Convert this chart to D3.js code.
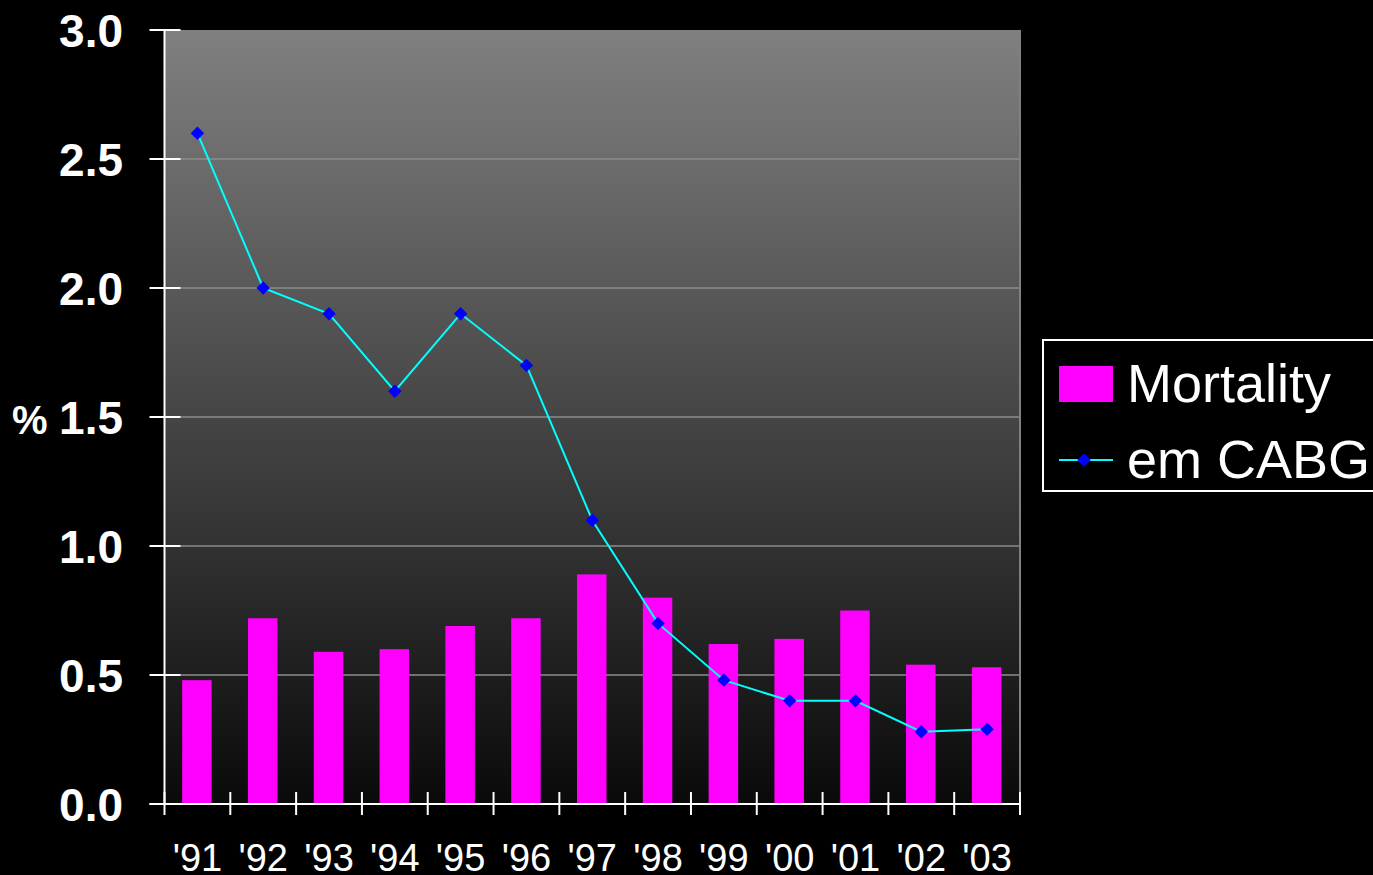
<!DOCTYPE html>
<html>
<head>
<meta charset="utf-8">
<script src="https://cdn.jsdelivr.net/npm/d3@7"></script>
<style>
  html, body { margin: 0; padding: 0; background: #000; }
  svg { display: block; }
  text { font-family: "Liberation Sans", Arial, sans-serif; fill: #fff; }
</style>
</head>
<body>
<svg id="chart" width="1373" height="875"></svg>
<script>
// Year labels along the category axis
const years = ["'91", "'92", "'93", "'94", "'95", "'96", "'97", "'98", "'99", "'00", "'01", "'02", "'03"];
// Mortality (%) shown as bars
const mortality = [0.48, 0.72, 0.59, 0.60, 0.69, 0.72, 0.89, 0.80, 0.62, 0.64, 0.75, 0.54, 0.53];
// em CABG (%) shown as the line
const emCABG = [2.6, 2.0, 1.9, 1.6, 1.9, 1.7, 1.1, 0.7, 0.48, 0.40, 0.40, 0.28, 0.29];
// Value axis ticks
const yTicks = [0, 0.5, 1.0, 1.5, 2.0, 2.5, 3.0];

const svg = d3.select("#chart");
const plot = { left: 164.5, right: 1020, top: 30, bottom: 804 };

const x = d3.scaleBand().domain(years).range([plot.left, plot.right]).paddingInner(0).paddingOuter(0);
const y = d3.scaleLinear().domain([0, 3]).range([plot.bottom, plot.top]);

// Diamond marker: a square turned 45 degrees
const marker = d3.symbol().type(d3.symbolSquare).size(90);

// Plot background: vertical grey-to-black gradient
const defs = svg.append("defs");
const grad = defs.append("linearGradient").attr("id", "bg").attr("x1", 0).attr("y1", 0).attr("x2", 0).attr("y2", 1);
grad.append("stop").attr("offset", "0%").attr("stop-color", "#808080");
grad.append("stop").attr("offset", "100%").attr("stop-color", "#0a0a0a");

svg.append("rect")
  .attr("x", plot.left).attr("y", plot.top)
  .attr("width", plot.right - plot.left).attr("height", plot.bottom - plot.top)
  .attr("fill", "url(#bg)");

// Horizontal gridlines
svg.append("g").selectAll("line").data(yTicks.filter(d => d > 0 && d < 3)).join("line")
  .attr("x1", plot.left).attr("x2", plot.right)
  .attr("y1", d => y(d)).attr("y2", d => y(d))
  .attr("stroke", "#8c8c8c").attr("stroke-width", 1.5);

// Right border of the plot area
svg.append("line")
  .attr("x1", plot.right).attr("x2", plot.right)
  .attr("y1", plot.top).attr("y2", plot.bottom)
  .attr("stroke", "#808080").attr("stroke-width", 2);

// Mortality bars
const barW = 29.5;
svg.append("g").selectAll("rect").data(mortality).join("rect")
  .attr("x", (d, i) => x(years[i]) + x.bandwidth() / 2 - barW / 2 - 0.5)
  .attr("y", d => y(d))
  .attr("width", barW)
  .attr("height", d => y(0) - y(d))
  .attr("fill", "#ff00ff");

// em CABG line with diamond markers
const lineGen = d3.line()
  .x((d, i) => x(years[i]) + x.bandwidth() / 2)
  .y(d => y(d));
svg.append("path").datum(emCABG)
  .attr("d", lineGen)
  .attr("fill", "none").attr("stroke", "#00ffff").attr("stroke-width", 2);

svg.append("g").selectAll("path").data(emCABG).join("path")
  .attr("d", marker)
  .attr("transform", (d, i) => `translate(${x(years[i]) + x.bandwidth() / 2},${y(d)}) rotate(45)`)
  .attr("fill", "#0000ff");

// Value axis (line crosses through the ticks)
const yAxis = svg.append("g");
yAxis.append("line")
  .attr("x1", plot.left).attr("x2", plot.left)
  .attr("y1", plot.top).attr("y2", plot.bottom)
  .attr("stroke", "#fff").attr("stroke-width", 2);
yAxis.selectAll("line.tick").data(yTicks).join("line").attr("class", "tick")
  .attr("x1", plot.left - 15).attr("x2", plot.left + 16)
  .attr("y1", d => y(d)).attr("y2", d => y(d))
  .attr("stroke", "#fff").attr("stroke-width", 2);
yAxis.selectAll("text").data(yTicks).join("text")
  .attr("x", 123).attr("y", d => y(d) + 16.5)
  .attr("text-anchor", "end")
  .attr("font-size", 46).attr("font-weight", "bold")
  .text(d => d3.format(".1f")(d));

// Unit label
svg.append("text")
  .attr("x", 12).attr("y", y(1.5) + 16.5)
  .attr("font-size", 40).attr("font-weight", "bold")
  .text("%");

// Category axis
const xAxis = svg.append("g");
xAxis.append("line")
  .attr("x1", plot.left - 15).attr("x2", plot.right)
  .attr("y1", plot.bottom).attr("y2", plot.bottom)
  .attr("stroke", "#fff").attr("stroke-width", 2);
const bounds = years.map(d => x(d)).concat([plot.right]);
xAxis.selectAll("line.tick").data(bounds).join("line").attr("class", "tick")
  .attr("x1", d => d).attr("x2", d => d)
  .attr("y1", plot.bottom - 12).attr("y2", plot.bottom + 11)
  .attr("stroke", "#fff").attr("stroke-width", 2);
xAxis.selectAll("text").data(years).join("text")
  .attr("x", d => x(d) + x.bandwidth() / 2)
  .attr("y", 871)
  .attr("text-anchor", "middle")
  .attr("font-size", 38)
  .text(d => d);

// Legend
const legend = svg.append("g");
legend.append("rect")
  .attr("x", 1043).attr("y", 340).attr("width", 340).attr("height", 151)
  .attr("fill", "#000").attr("stroke", "#fff").attr("stroke-width", 2);
legend.append("rect")
  .attr("x", 1059).attr("y", 366).attr("width", 54).attr("height", 36)
  .attr("fill", "#ff00ff");
legend.append("text")
  .attr("x", 1127).attr("y", 402)
  .attr("font-size", 54).text("Mortality");
legend.append("line")
  .attr("x1", 1059).attr("x2", 1113).attr("y1", 460).attr("y2", 460)
  .attr("stroke", "#00ffff").attr("stroke-width", 2);
legend.append("path")
  .attr("transform", "translate(1084,460) rotate(45)")
  .attr("d", marker)
  .attr("fill", "#0000ff");
legend.append("text")
  .attr("x", 1127).attr("y", 478)
  .attr("font-size", 54).text("em CABG");
</script>
</body>
</html>
